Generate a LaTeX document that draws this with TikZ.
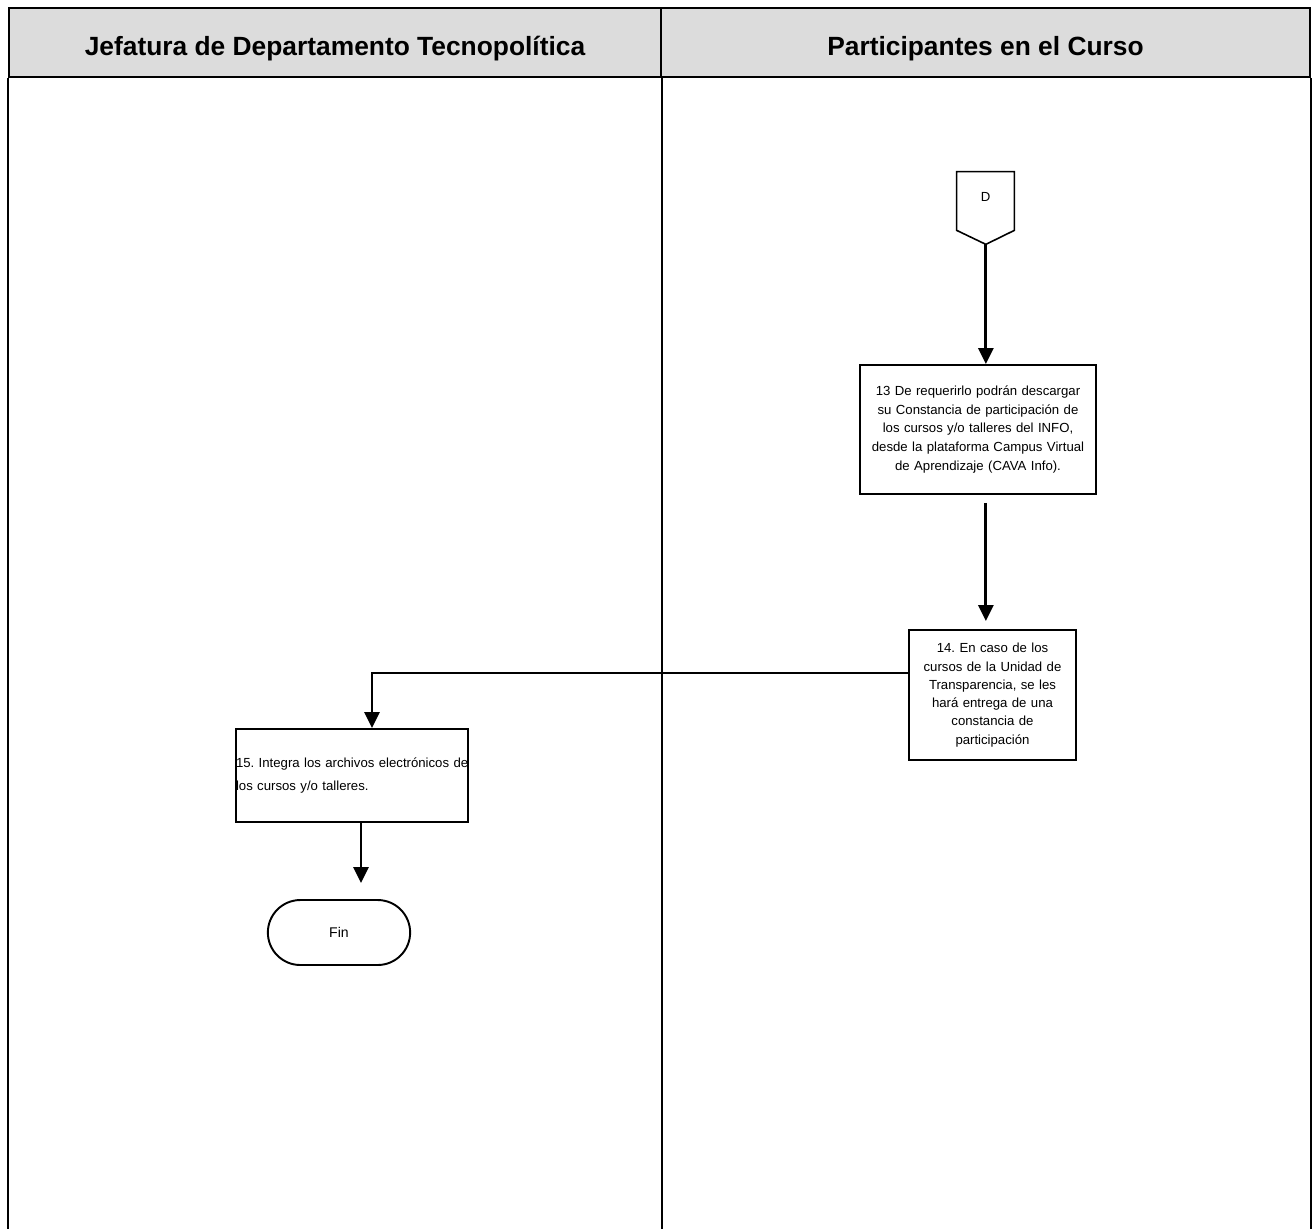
\documentclass[tikz,border=0pt]{standalone}
\usepackage{fontspec}
\setmainfont{Liberation Sans}
\usetikzlibrary{arrows.meta, positioning, shapes.misc}
\definecolor{headgray}{RGB}{220, 220, 220}

\begin{document}
\frenchspacing
\begin{tikzpicture}[
  lanehead/.style = {rectangle, draw, line width=1.5pt, fill=headgray,
                     minimum height=1.38cm, inner sep=0pt,
                     text height=0.55cm, text depth=0.05cm,
                     font=\fontsize{15}{18}\selectfont\bfseries},
  proc/.style     = {rectangle, draw, line width=1.1pt, fill=white,
                     inner sep=0pt, align=center,
                     font=\fontsize{7.5}{10.8}\selectfont},
  term/.style     = {rounded rectangle, draw, line width=1.1pt,
                     minimum width=3.08cm, minimum height=1.3cm,
                     font=\fontsize{8}{10}\selectfont},
  arr/.style      = {-{Triangle[length=0.32cm, width=0.3cm]}, line width=1.6pt},
]
  \useasboundingbox (0,0) rectangle (26.24,-24.58);

  % Lane headers
  \node[lanehead, minimum width=13.04cm] (hjef) at (6.70,-0.85)  {Jefatura de Departamento Tecnopolítica};
  \node[lanehead, minimum width=12.98cm] (hpar) at (19.71,-0.85) {Participantes en el Curso};

  % Lane separators
  \coordinate (bot) at (0,-24.58);
  \draw[line width=1.3pt] (hjef.south west) -- (hjef.south west |- bot);
  \draw[line width=1.3pt] (hjef.south east) -- (hjef.south east |- bot);
  \draw[line width=1.3pt] (hpar.south east) -- (hpar.south east |- bot);

  % Off-page connector
  \node[minimum width=1.14cm, minimum height=1.16cm, inner sep=0pt,
        font=\fontsize{7.5}{9}\selectfont] (d) at (19.71,-4.02) {\raisebox{0.18cm}{D}};
  \draw[line width=0.9pt] (d.north west) -- (d.north east) -- (d.south east)
    -- ++(-0.57,-0.28) coordinate (dtip) -- (d.south west) -- cycle;

  % Steps
  \node[proc, text width=4.72cm, minimum height=2.58cm] (b13) at (19.56,-8.59)
    {13 De requerirlo podrán descargar\\su Constancia de participación de\\los cursos y/o talleres del INFO,\\desde la plataforma Campus Virtual\\de Aprendizaje (CAVA Info).};
  \node[proc, text width=3.34cm, minimum height=2.6cm,
        font=\fontsize{7.5}{10.4}\selectfont] (b14) at (19.85,-13.90)
    {14. En caso de los\\cursos de la Unidad de\\Transparencia, se les\\hará entrega de una\\constancia de\\participación};
  \node[proc, text width=4.64cm, minimum height=1.86cm, align=left,
        font=\fontsize{7.5}{13}\selectfont] (b15) at (7.04,-15.51)
    {\mbox{15. Integra los archivos electrónicos de}\\los cursos y/o talleres.};
  \node[term] (fin) at (6.78,-18.65) {Fin};

  % Flow
  \draw[arr] (dtip) -- (dtip |- b13.north);
  \draw[arr, shorten <=0.16cm, shorten >=0.16cm] (dtip |- b13.south) -- (dtip |- b14.north);
  \draw[arr] ([yshift=0.44cm]b14.west) -| ([xshift=0.4cm]b15.north);
  \draw[arr, shorten >=0.32cm] ([xshift=0.18cm]b15.south) -- ([xshift=0.18cm]b15.south |- fin.north);
\end{tikzpicture}
\end{document}
